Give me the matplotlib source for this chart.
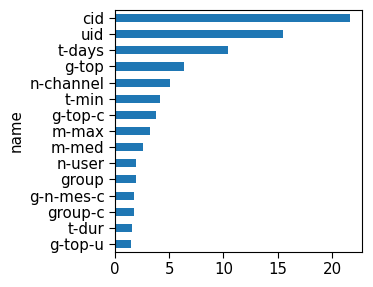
import matplotlib
matplotlib.use("Agg")
import matplotlib.pyplot as plt
import numpy as np

# feature names, bottom to top
names = ["g-top-u", "t-dur", "group-c", "g-n-mes-c", "group", "n-user", "m-med",
         "m-max", "g-top-c", "t-min", "n-channel", "g-top", "t-days", "uid", "cid"]
importance = [1.47, 1.57, 1.75, 1.75, 1.93, 1.96, 2.6,
              3.23, 3.83, 4.18, 5.07, 6.4, 10.45, 15.5, 21.7]

fig = plt.figure(figsize=(3.73, 2.87), dpi=100)
ax = fig.add_axes([0.308, 0.122, 0.663, 0.843])

y = np.arange(len(names))
ax.barh(y, importance, height=0.5, color="#1f77b4")
ax.set_yticks(y)
ax.set_yticklabels(names, fontsize=10.8)
ax.set_ylabel("name", fontsize=10.8)
ax.set_xticks([0, 5, 10, 15, 20])
ax.tick_params(axis="x", labelsize=10.8)
ax.tick_params(length=4)
ax.set_ylim(-0.5, len(names) - 0.5)
ax.set_xlim(0, max(importance) * 1.05)

fig.savefig("out.png", dpi=100)
